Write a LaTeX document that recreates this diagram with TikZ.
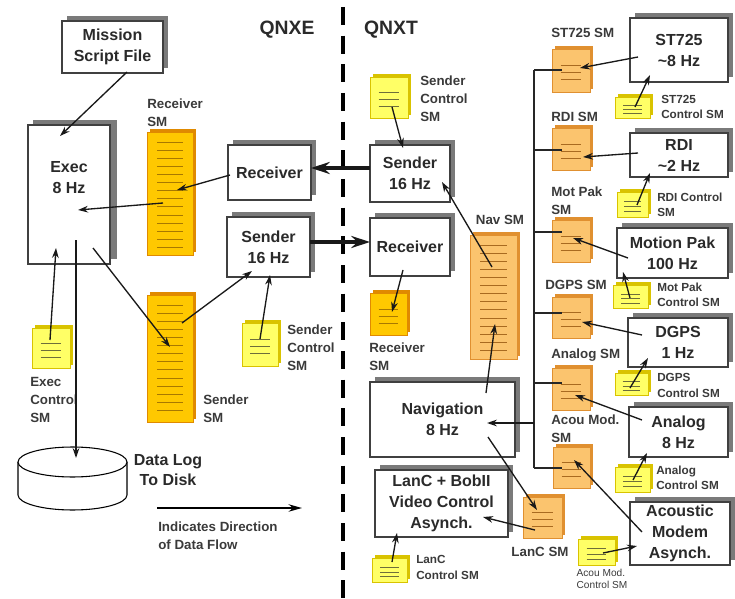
\documentclass[tikz,border=0pt]{standalone}
\usepackage{fontspec}
\setmainfont{Liberation Sans}
\usetikzlibrary{arrows.meta,shadows,calc}
\definecolor{yelfill}{HTML}{FFFF66}
\definecolor{yeledge}{HTML}{D9C300}
\definecolor{yelline}{HTML}{6E6E3A}
\definecolor{goldfill}{HTML}{FFC800}
\definecolor{goldedge}{HTML}{E08A00}
\definecolor{goldline}{HTML}{A87800}
\definecolor{orgfill}{HTML}{FBC46E}
\definecolor{orgedge}{HTML}{E09030}
\definecolor{orgline}{HTML}{A86A20}
\definecolor{txt}{HTML}{2A2A2A}
\definecolor{lbltxt}{HTML}{3A3A3A}
\definecolor{boxshadow}{HTML}{7A7A7A}
\tikzset{
  box/.style={draw=black!75, fill=white, line width=0.8pt, inner sep=0pt, outer sep=0pt,
    align=center, text=txt, font=\bfseries\fontsize{12}{15.75}\selectfont,
    general shadow={fill=boxshadow, shadow xshift=3.6pt, shadow yshift=3.4pt}},
  yel/.style={draw=yeledge, fill=yelfill, line width=0.5pt, inner sep=0pt, outer sep=0pt,
    general shadow={fill=yeledge, shadow xshift=2.2pt, shadow yshift=2.2pt}},
  yel line/.style={draw=yelline, line width=0.6pt},
  gold/.style={draw=goldedge, fill=goldfill, line width=0.5pt, inner sep=0pt, outer sep=0pt,
    general shadow={fill=goldedge, shadow xshift=2.2pt, shadow yshift=2.2pt}},
  gold line/.style={draw=goldline, line width=0.6pt},
  org/.style={draw=orgedge, fill=orgfill, line width=0.5pt, inner sep=0pt, outer sep=0pt,
    general shadow={fill=orgedge, shadow xshift=2.2pt, shadow yshift=2.2pt}},
  org line/.style={draw=orgline, line width=0.6pt},
  arr/.style={-{Stealth[length=7.5pt,width=5pt]}, line width=1pt, draw=black!90},
  thickarr/.style={-{Stealth[length=14pt,width=9pt]}, line width=2.4pt, draw=black!90},
  busline/.style={line width=0.9pt, draw=black!85},
  lbl/.style={inner sep=0pt, align=left, text=lbltxt, font=\bfseries\fontsize{10}{13.5}\selectfont},
  slbl/.style={inner sep=0pt, align=left, text=lbltxt, font=\bfseries\fontsize{8.8}{11.5}\selectfont},
  tlbl/.style={inner sep=0pt, align=left, text=lbltxt, font=\fontsize{7.6}{9}\selectfont},
}
\newcommand\pbox[6]{\node[box, minimum width={(#4-#2)*0.75pt}, minimum height={(#5-#3)*0.75pt}] (#1) at ({(#2+#4)/2},{(#3+#5)/2}) {#6};}
\newcommand\smnote[6]{%
  \node[#6, minimum width={(#4-#2)*0.75pt}, minimum height={(#5-#3)*0.75pt}] (#1) at ({(#2+#4)/2},{(#3+#5)/2}) {};
  \pgfmathsetmacro\nsp{min(7,(#5-#3)/5)}%
  \foreach \k in {-1,0,1} \draw[#6 line] ({(#2+#4)/2-(#4-#2)*0.27},{(#3+#5)/2+2+\k*\nsp}) -- ++({(#4-#2)*0.54},0);
}
\newcommand\tallbar[6]{%
  \node[#6, minimum width={(#4-#2)*0.75pt}, minimum height={(#5-#3)*0.75pt}] (#1) at ({(#2+#4)/2},{(#3+#5)/2}) {};
  \foreach \k in {0,...,13} \draw[#6 line] ({#2+10},{#3+10+\k*8.1}) -- ({#4-10},{#3+10+\k*8.1});
}
\begin{document}
\begin{tikzpicture}[x=0.75pt,y=-0.75pt]
\useasboundingbox (0,0) rectangle (735,599);
% divider
\draw[line width=2.3pt, dash pattern=on 13.5pt off 8pt] (343,7) -- (343,599);
\node[font=\bfseries\fontsize{14.5}{17}\selectfont, text=txt] (qnxe) at (287,30) {QNXE};
\node[font=\bfseries\fontsize{14.5}{17}\selectfont, text=txt] (qnxt) at (391,30) {QNXT};

% boxes
\pbox{mission}{62}{21}{163}{73}{Mission\\Script File}
\node[box, minimum width={82*0.75pt}, minimum height={139*0.75pt}, general shadow={fill=boxshadow, shadow xshift=5pt, shadow yshift=3.6pt}] (exec) at (69,194.5) {};
\node[align=center, text=txt, font=\bfseries\fontsize{12}{15.75}\selectfont] (exectxt) at (69,178) {Exec\\8 Hz};
\pbox{recvL}{228}{145}{311}{200}{Receiver}
\pbox{sendL}{227}{217}{310}{277}{Sender\\16 Hz}
\pbox{sendR}{370}{145}{450}{202}{Sender\\16 Hz}
\pbox{recvR}{370}{218}{450}{276}{Receiver}
\pbox{nav}{370}{382}{515}{457}{Navigation\\8 Hz}
\pbox{lanc}{375}{470}{508}{537}{LanC + BobII\\Video Control\\Asynch.}
\pbox{st725}{630}{18}{728}{82}{ST725\\{\textasciitilde}8 Hz}
\pbox{rdi}{630}{133}{728}{177}{RDI\\{\textasciitilde}2 Hz}
\pbox{motpak}{617}{228}{728}{278}{Motion Pak\\100 Hz}
\pbox{dgps}{628}{318}{728}{367}{DGPS\\1 Hz}
\pbox{analog}{629}{407}{728}{457}{Analog\\8 Hz}
\pbox{acoustic}{630}{502}{730}{565}{Acoustic\\Modem\\Asynch.}

% shared memories
\tallbar{recvSM}{147}{132}{193}{255}{gold}
\tallbar{sendSM}{147}{295}{193}{422}{gold}
\tallbar{navSM}{470}{235}{517}{359}{org}
\smnote{recvSMR}{370}{293}{407}{335}{gold}
\smnote{execCtl}{32}{328}{70}{368}{yel}
\smnote{sendCtlL}{242}{323}{278}{366}{yel}
\smnote{sendCtlR}{370}{77}{408}{118}{yel}
\smnote{st725Ctl}{615}{97}{650}{118}{yel}
\smnote{rdiCtl}{617}{192}{648}{217}{yel}
\smnote{motCtl}{613}{285}{648}{308}{yel}
\smnote{dgpsCtl}{615}{373}{648}{395}{yel}
\smnote{analogCtl}{615}{467}{650}{492}{yel}
\smnote{lancCtl}{372}{558}{407}{582}{yel}
\smnote{acouCtl}{578}{539}{615}{565}{yel}
\smnote{st725SM}{552}{49}{590}{92}{org}
\smnote{rdiSM}{552}{128}{590}{170}{org}
\smnote{motSM}{552}{220}{590}{262}{org}
\smnote{dgpsSM}{552}{297}{590}{338}{org}
\smnote{analogSM}{552}{368}{590}{410}{org}
\smnote{acouSM}{553}{447}{590}{488}{org}
\smnote{lancSM}{523}{497}{562}{538}{org}

% disk
\node[minimum width={109*0.75pt}, minimum height={63*0.75pt}, inner sep=0pt] (disk) at (72.5,478.5) {};
\draw[line width=0.8pt, fill=white] (18,462) -- (18,495) arc[start angle=180, end angle=0, x radius=54.5, y radius=15] -- (127,462);
\draw[line width=0.8pt, fill=white] (72.5,462) ellipse [x radius=54.5, y radius=15];

% labels
\node[lbl, anchor=west] (lRecvSM) at (147,113) {Receiver\\SM};
\node[lbl, anchor=west] (lSendSM) at (203,409) {Sender\\SM};
\node[lbl, anchor=west] (lExecCtl) at (30,400) {Exec\\Control\\SM};
\node[lbl, anchor=west] (lSendCtlL) at (287,347.5) {Sender\\Control\\SM};
\node[lbl, anchor=west] (lSendCtlR) at (420,98.5) {Sender\\Control\\SM};
\node[lbl, anchor=west] (lRecvSMR) at (369,356.5) {Receiver\\SM};
\node[lbl] (lNavSM) at (500,220) {Nav SM};
\node[lbl, anchor=west] (lSt725SM) at (551,33) {ST725 SM};
\node[lbl, anchor=west] (lRdiSM) at (551,117) {RDI SM};
\node[lbl, anchor=west] (lMotSM) at (551,201) {Mot Pak\\SM};
\node[lbl, anchor=west] (lDgpsSM) at (545,285) {DGPS SM};
\node[lbl, anchor=west] (lAnalogSM) at (551,355) {Analog SM};
\node[lbl, anchor=west] (lAcouSM) at (551,429) {Acou Mod.\\SM};
\node[lbl] (lLancSM) at (540,552) {LanC SM};
\node[slbl, anchor=west] (lSt725Ctl) at (661,107) {ST725\\Control SM};
\node[slbl, anchor=west] (lRdiCtl) at (657,204.5) {RDI Control\\SM};
\node[slbl, anchor=west] (lMotCtl) at (657,295) {Mot Pak\\Control SM};
\node[slbl, anchor=west] (lDgpsCtl) at (657,385.5) {DGPS\\Control SM};
\node[slbl, anchor=west] (lAnalogCtl) at (656,478) {Analog\\Control SM};
\node[slbl, anchor=west] (lLancCtl) at (416,567.5) {LanC\\Control SM};
\node[tlbl] (lAcouCtl) at (602,579) {Acou Mod.\\Control SM};
\node[inner sep=0pt, align=center, text=txt, font=\bfseries\fontsize{12}{15}\selectfont] (lDisk) at (168,470) {Data Log\\To Disk};
\node[lbl, anchor=west] (lLegend) at (158,536) {Indicates Direction\\of Data Flow};

% legend arrow
\coordinate (legA) at (157,508);
\coordinate (legB) at (302,508);
\draw[-{Stealth[length=10pt,width=5.5pt]}, line width=1.6pt] (legA) -- (legB);

% bus
\coordinate (busTop) at (534,70);
\coordinate (busBot) at (534,468);
\coordinate (busNav) at (534,423);
\draw[busline] (busTop) -- (busBot);
\draw[busline] (busTop) -- ([shift={(10,-0.5)}]st725SM.west);
\draw[busline] ([shift={(-18,1)}]rdiSM.west) -- ([shift={(10,1)}]rdiSM.west);
\draw[busline] ([shift={(-18,-9)}]motSM.west) -- ([shift={(10,-9)}]motSM.west);
\draw[busline] ([shift={(-18,-4.5)}]dgpsSM.west) -- ([shift={(10,-4.5)}]dgpsSM.west);
\draw[busline] ([shift={(-18,-6)}]analogSM.west) -- ([shift={(10,-6)}]analogSM.west);
\draw[busline] (busBot) -- ([shift={(9,0.5)}]acouSM.west);

% connectors
\draw[arr] ([shift={(14.5,25)}]mission.center) -- ([shift={(-9,-58.5)}]exec.center);
\draw[arr] ([shift={(-39.5,2.5)}]recvL.center) -- ([shift={(7,-3.5)}]recvSM.center);
\draw[arr] ([shift={(-7,9.5)}]recvSM.center) -- ([shift={(9,15.5)}]exec.center);
\draw[arr] ([shift={(24,53.5)}]exec.center) -- ([shift={(0,-11.5)}]sendSM.center);
\draw[arr] ([shift={(12,-35.5)}]sendSM.center) -- ([shift={(-16.5,24)}]sendL.center);
\draw[arr] ([shift={(0,-5.5)}]sendCtlL.center) -- ([shift={(1.5,28)}]sendL.center);
\draw[thickarr] ([shift={(41.5,-5)}]sendL.center) -- ([shift={(-40,-5)}]recvR.center);
\draw[thickarr] ([shift={(-40,-5.5)}]sendR.center) -- ([shift={(41.5,-4.5)}]recvL.center);
\draw[arr] ([shift={(3,9.5)}]sendCtlR.center) -- ([shift={(-7,-25.5)}]sendR.center);
\draw[arr] ([shift={(-7,23)}]recvR.center) -- ([shift={(3.5,-2)}]recvSMR.center);
\draw[arr] ([shift={(-1.5,-30)}]navSM.center) -- ([shift={(32,8.5)}]sendR.center);
\draw[arr] ([shift={(43.5,-26.5)}]nav.center) -- ([shift={(1.5,27)}]navSM.center);
\draw[arr] (busNav) -- ([shift={(44.5,3.5)}]nav.center);
\draw[arr] ([shift={(45.5,17.5)}]nav.center) -- ([shift={(-5.5,-7.5)}]lancSM.center);
\draw[arr] ([shift={(-7.5,12.5)}]lancSM.center) -- ([shift={(41.5,13.5)}]lanc.center);
\draw[arr] ([shift={(2.5,-8)}]lancCtl.center) -- ([shift={(-44.5,29.5)}]lanc.center);
\draw[arr] ([shift={(-41,7)}]st725.center) -- ([shift={(9,-2.5)}]st725SM.center);
\draw[arr] ([shift={(2.5,-0.5)}]st725Ctl.center) -- ([shift={(-29,25)}]st725.center);
\draw[arr] ([shift={(-41,-2)}]rdi.center) -- ([shift={(12,8)}]rdiSM.center);
\draw[arr] ([shift={(4.5,0.5)}]rdiCtl.center) -- ([shift={(-29,18)}]rdi.center);
\draw[arr] ([shift={(-44.5,5)}]motpak.center) -- ([shift={(2,-3)}]motSM.center);
\draw[arr] ([shift={(-0.5,1.5)}]motCtl.center) -- ([shift={(-49.5,19)}]motpak.center);
\draw[arr] ([shift={(-36,-7.5)}]dgps.center) -- ([shift={(11,4.5)}]dgpsSM.center);
\draw[arr] ([shift={(-1.5,4)}]dgpsCtl.center) -- ([shift={(-30,15.5)}]dgps.center);
\draw[arr] ([shift={(-36.5,-12)}]analog.center) -- ([shift={(4,6)}]analogSM.center);
\draw[arr] ([shift={(0.5,0.5)}]analogCtl.center) -- ([shift={(-31.5,21)}]analog.center);
\draw[arr] ([shift={(-38,-1.5)}]acoustic.center) -- ([shift={(2.5,-7.5)}]acouSM.center);
\draw[arr] ([shift={(6.5,1)}]acouCtl.center) -- ([shift={(-43,12.5)}]acoustic.center);
\draw[arr] ([shift={(-1,-8)}]execCtl.center) -- ([shift={(-13,53.5)}]exec.center);
\draw[arr] ([shift={(7,45.5)}]exec.center) -- ([shift={(3.5,-20.5)}]disk.center);
\end{tikzpicture}
\end{document}
